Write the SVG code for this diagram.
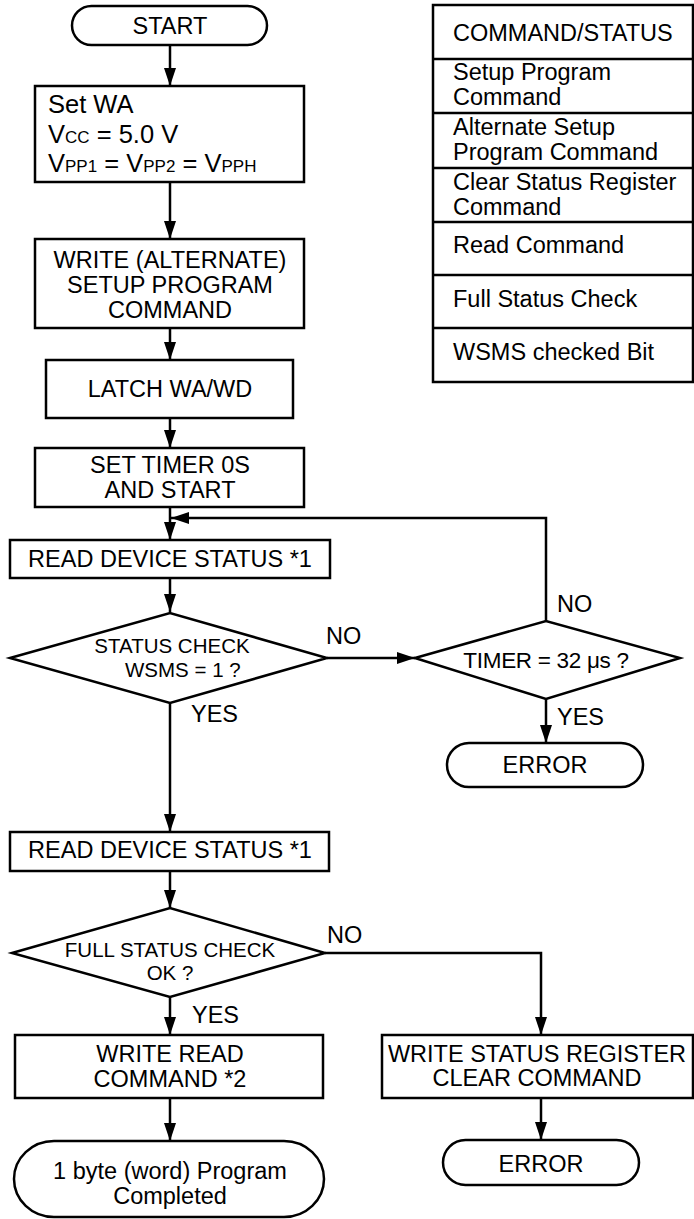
<svg xmlns="http://www.w3.org/2000/svg" width="694" height="1219" viewBox="0 0 694 1219">
<defs>
<style>
.s{fill:#fff;stroke:#000;stroke-width:2.5}
.c{fill:none;stroke:#000;stroke-width:2.5}
text{font-family:"Liberation Sans",Arial,sans-serif;font-size:23.5px;fill:#000}
.m{text-anchor:middle}
.d{font-size:20.5px}
.t{font-size:23.5px}
.w{font-size:25.5px}
.sub{font-size:17px}
</style>
<marker id="ah" viewBox="0 0 18 12" refX="18" refY="6" markerWidth="18" markerHeight="12" markerUnits="userSpaceOnUse" orient="auto">
<path d="M0,0 L18,6 L0,12 Z" fill="#000"/>
</marker>
</defs>
<rect width="694" height="1219" fill="#fff"/>

<g id="connectors">
<line class="c" x1="170" y1="45" x2="170" y2="86" marker-end="url(#ah)"/>
<line class="c" x1="170" y1="182" x2="170" y2="239" marker-end="url(#ah)"/>
<line class="c" x1="170" y1="328" x2="170" y2="360" marker-end="url(#ah)"/>
<line class="c" x1="170" y1="418" x2="170" y2="448" marker-end="url(#ah)"/>
<line class="c" x1="170" y1="507" x2="170" y2="540" marker-end="url(#ah)"/>
<polyline class="c" points="546,621 546,518 171,518" marker-end="url(#ah)"/>
<line class="c" x1="170" y1="578" x2="170" y2="612" marker-end="url(#ah)"/>
<line class="c" x1="327" y1="658" x2="415" y2="658" marker-end="url(#ah)"/>
<line class="c" x1="546" y1="699" x2="546" y2="743" marker-end="url(#ah)"/>
<line class="c" x1="170" y1="703" x2="170" y2="832" marker-end="url(#ah)"/>
<line class="c" x1="170" y1="871" x2="170" y2="908" marker-end="url(#ah)"/>
<line class="c" x1="170" y1="997" x2="170" y2="1035" marker-end="url(#ah)"/>
<polyline class="c" points="325,953 541,953 541,1035" marker-end="url(#ah)"/>
<line class="c" x1="170" y1="1098" x2="170" y2="1141" marker-end="url(#ah)"/>
<line class="c" x1="541" y1="1098" x2="541" y2="1140" marker-end="url(#ah)"/>
<text x="326" y="644">NO</text>
<text x="557" y="612">NO</text>
<text x="557" y="725">YES</text>
<text x="191" y="722">YES</text>
<text x="327" y="943">NO</text>
<text x="192" y="1023">YES</text>
</g>

<g id="start">
<rect class="s" x="72" y="6" width="195" height="39" rx="19.5"/>
<text class="m" x="170" y="34">START</text>
</g>

<g id="setwa">
<rect class="s" x="35" y="86" width="269" height="96"/>
<text class="w" x="48" y="113">Set WA</text>
<text class="w" x="48" y="143">V<tspan class="sub">CC</tspan> = 5.0 V</text>
<text class="w" x="48" y="172">V<tspan class="sub">PP1</tspan> = V<tspan class="sub">PP2</tspan> = V<tspan class="sub">PPH</tspan></text>
</g>

<g id="write-setup">
<rect class="s" x="35" y="239" width="269" height="89"/>
<text class="m" x="170" y="268">WRITE (ALTERNATE)</text>
<text class="m" x="170" y="293">SETUP PROGRAM</text>
<text class="m" x="170" y="318">COMMAND</text>
</g>

<g id="latch">
<rect class="s" x="46" y="360" width="247" height="58"/>
<text class="m" x="170" y="397">LATCH WA/WD</text>
</g>

<g id="timer-set">
<rect class="s" x="35" y="448" width="269" height="59"/>
<text class="m" x="170" y="473">SET TIMER 0S</text>
<text class="m" x="170" y="498">AND START</text>
</g>

<g id="read1">
<rect class="s" x="10" y="540" width="320" height="38"/>
<text class="m" x="170" y="567">READ DEVICE STATUS *1</text>
</g>

<g id="check1">
<polygon class="s" points="10,658 170,613 327,658 170,703"/>
<text class="d m" x="172" y="653">STATUS CHECK</text>
<text class="d" x="125" y="677">WSMS = 1 ?</text>
</g>

<g id="timer-check">
<polygon class="s" points="415,658 546,621 680,658 546,699"/>
<text class="m" x="546" y="668" style="font-size:22.5px;letter-spacing:-0.3px">TIMER = 32 μs ?</text>
</g>

<g id="error1">
<rect class="s" x="447" y="743" width="196" height="44" rx="22"/>
<text class="m" x="545" y="773">ERROR</text>
</g>

<g id="read2">
<rect class="s" x="10" y="832" width="319" height="39"/>
<text class="m" x="170" y="858">READ DEVICE STATUS *1</text>
</g>

<g id="check2">
<polygon class="s" points="12,953 170,908 325,953 170,997"/>
<text class="d m" x="170" y="957">FULL STATUS CHECK</text>
<text class="d m" x="170" y="980">OK ?</text>
</g>

<g id="write-read">
<rect class="s" x="15" y="1035" width="308" height="63"/>
<text class="m" x="170" y="1062">WRITE READ</text>
<text class="m" x="170" y="1087">COMMAND *2</text>
</g>

<g id="complete">
<rect class="s" x="14" y="1141" width="310" height="76" rx="40" ry="38"/>
<text class="m" x="170" y="1179">1 byte (word) Program</text>
<text class="m" x="170" y="1204">Completed</text>
</g>

<g id="write-clear">
<rect class="s" x="382" y="1035" width="311" height="63"/>
<text class="m" x="537" y="1062">WRITE STATUS REGISTER</text>
<text class="m" x="537" y="1086">CLEAR COMMAND</text>
</g>

<g id="error2">
<rect class="s" x="443" y="1140" width="196" height="45" rx="22.5"/>
<text class="m" x="541" y="1172">ERROR</text>
</g>

<g id="table">
<rect class="s" x="433" y="5" width="260" height="377"/>
<line class="c" x1="433" y1="59" x2="693" y2="59"/>
<line class="c" x1="433" y1="113" x2="693" y2="113"/>
<line class="c" x1="433" y1="168" x2="693" y2="168"/>
<line class="c" x1="433" y1="222" x2="693" y2="222"/>
<line class="c" x1="433" y1="275" x2="693" y2="275"/>
<line class="c" x1="433" y1="328" x2="693" y2="328"/>
<text class="t" x="453" y="41">COMMAND/STATUS</text>
<text class="t" x="453" y="80">Setup Program</text>
<text class="t" x="453" y="105">Command</text>
<text class="t" x="453" y="135">Alternate Setup</text>
<text class="t" x="453" y="160">Program Command</text>
<text class="t" x="453" y="190">Clear Status Register</text>
<text class="t" x="453" y="215">Command</text>
<text class="t" x="453" y="253">Read Command</text>
<text class="t" x="453" y="307">Full Status Check</text>
<text class="t" x="453" y="360">WSMS checked Bit</text>
</g>
</svg>
